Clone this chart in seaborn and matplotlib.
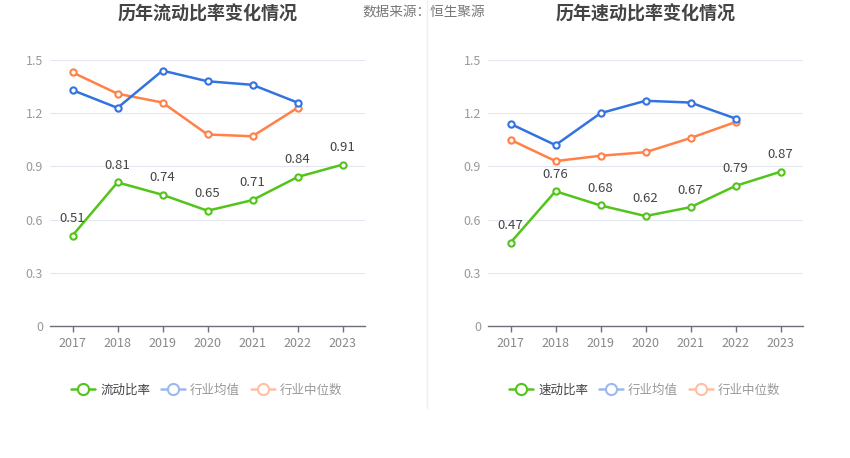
import matplotlib
matplotlib.use("Agg")
import matplotlib.pyplot as plt
from matplotlib.lines import Line2D
import seaborn as sns
import numpy as np
import pandas as pd

years = ["2017", "2018", "2019", "2020", "2021", "2022", "2023"]

current_ratio = [0.51, 0.81, 0.74, 0.65, 0.71, 0.84, 0.91]
current_avg = [1.33, 1.23, 1.44, 1.38, 1.36, 1.26, np.nan]
current_median = [1.43, 1.31, 1.26, 1.08, 1.07, 1.23, np.nan]

quick_ratio = [0.47, 0.76, 0.68, 0.62, 0.67, 0.79, 0.87]
quick_avg = [1.14, 1.02, 1.20, 1.27, 1.26, 1.17, np.nan]
quick_median = [1.05, 0.93, 0.96, 0.98, 1.06, 1.15, np.nan]

yticks = [0, 0.3, 0.6, 0.9, 1.2, 1.5]
ytick_labels = ["0", "0.3", "0.6", "0.9", "1.2", "1.5"]

GREEN = "#52c41a"
BLUE = "#3373e0"
ORANGE = "#ff8148"

sns.set_theme(style="white")
plt.rcParams["font.family"] = ["Noto Sans CJK SC", "DejaVu Sans"]

fig = plt.figure(figsize=(8.5, 4.58), dpi=100)


def draw(ax, title, main_name, main, avg, median, legend_x):
    df = pd.DataFrame({"year": years * 3,
                       "value": main + avg + median,
                       "series": [main_name] * 7 + ["行业均值"] * 7 + ["行业中位数"] * 7})
    x = np.arange(len(years))
    for name, color in [("行业中位数", ORANGE), ("行业均值", BLUE), (main_name, GREEN)]:
        sub = df[df["series"] == name].copy()
        sub["pos"] = x
        sns.lineplot(data=sub, x="pos", y="value", ax=ax, color=color, lw=1.8,
                     marker="o", markersize=4.5, markerfacecolor="white",
                     markeredgecolor=color, markeredgewidth=1.5, legend=False)
    for i, v in enumerate(main):
        ax.text(i, v + 0.06, f"{v:.2f}", ha="center", va="bottom",
                fontsize=9.5, color="#444444")

    ax.set_xlim(-0.5, 6.5)
    ax.set_ylim(0, 1.5)
    ax.set_xticks(x)
    ax.set_xticklabels(years)
    ax.set_yticks(yticks)
    ax.set_yticklabels(ytick_labels)
    ax.set_xlabel("")
    ax.set_ylabel("")
    ax.grid(axis="y", color="#e3e7ef", lw=0.8)
    ax.set_axisbelow(True)
    for s in ["top", "right", "left"]:
        ax.spines[s].set_visible(False)
    ax.spines["bottom"].set_color("#6e7079")
    ax.spines["bottom"].set_linewidth(1)
    ax.tick_params(axis="x", length=4, width=1, color="#6e7079",
                   labelsize=9, labelcolor="#888888", pad=4, bottom=True)
    ax.tick_params(axis="y", length=0, labelsize=9, labelcolor="#999999", pad=5)

    fig.text(ax.get_position().x0 + ax.get_position().width / 2, 1 - 14 / 458, title,
             ha="center", va="center", fontsize=13, fontweight="bold", color="#444444")

    handles = [
        Line2D([], [], color=GREEN, lw=1.8, marker="o", markersize=8,
               markerfacecolor="white", markeredgewidth=1.5),
        Line2D([], [], color="#9bb9ef", lw=1.8, marker="o", markersize=8,
               markerfacecolor="white", markeredgewidth=1.5),
        Line2D([], [], color="#ffbfa5", lw=1.8, marker="o", markersize=8,
               markerfacecolor="white", markeredgewidth=1.5),
    ]
    leg = fig.legend(handles, [main_name, "行业均值", "行业中位数"],
                     loc="center", bbox_to_anchor=(legend_x, 1 - 390 / 458),
                     ncol=3, frameon=False, fontsize=9, handlelength=1.9,
                     handletextpad=0.4, columnspacing=0.9)
    for t, c in zip(leg.get_texts(), ["#444444", "#999999", "#999999"]):
        t.set_color(c)


ax1 = fig.add_axes([50 / 850, 132 / 458, 315 / 850, 266 / 458])
ax2 = fig.add_axes([488 / 850, 132 / 458, 315 / 850, 266 / 458])

draw(ax1, "历年流动比率变化情况", "流动比率", current_ratio, current_avg, current_median, 207 / 850)
draw(ax2, "历年速动比率变化情况", "速动比率", quick_ratio, quick_avg, quick_median, 645 / 850)

fig.text(362 / 850, 1 - 12 / 458, "数据来源：恒生聚源", ha="left", va="center",
         fontsize=9.8, color="#777777")
fig.add_artist(Line2D([427 / 850, 427 / 850], [1 - 408 / 458, 1], color="#eeeeee", lw=1))

fig.savefig("out.png", dpi=100)
